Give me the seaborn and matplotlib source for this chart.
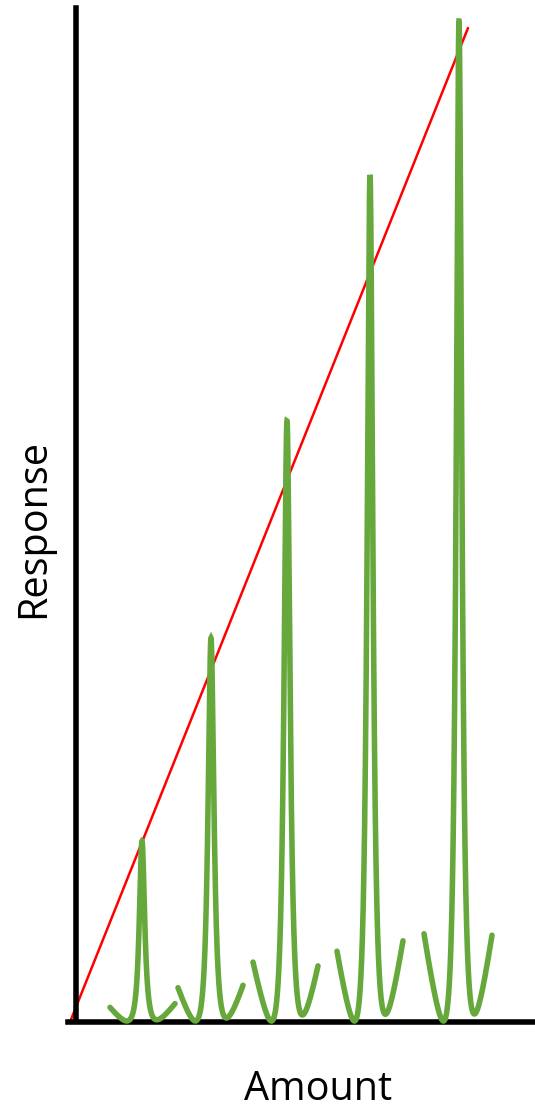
import numpy as np
import pandas as pd
import matplotlib
matplotlib.use("Agg")
import matplotlib.pyplot as plt
import seaborn as sns

# ---- data (pixel-like units: amount along x, response upward) ----
peak_amount = [142, 211, 287, 370, 459]
peak_response = [180, 383, 600, 846, 1000]
arm_rise = [15.5, 34.5, 57, 75, 86.5]    # mean level of the two arm ends
arm_left = [-32, -33, -34, -33, -35]
arm_right = [33, 32, 31, 33, 33]
arm_tilt = [0.04, 0.06, 0.1, 0.1, 0.1]
arm_shift = [0.0, 0.2, 0.3, 0.3, 0.3]    # centre of the baseline "V" left of the spike
valley_dist = [15, 15.5, 15.5, 15.5, 15.5]

line_amount = [70, 468]
line_response = [0, 994]

GREEN = "#67A83C"
RED = "#FF0000"
E = 5.0


def curve(d, H, w, a, t, s):
    return H * w * w / (w * w + d * d) + a * np.sqrt((d + s) ** 2 + E * E) + t * d


def build(top, rise, t, s, dv, dl, dr):
    H, a, w2 = float(top), rise / 18.0, 9.0
    d = np.linspace(dl, dr, 2001)
    pts = np.array([0.0, float(dl), float(dr)])
    for _ in range(40):
        for _ in range(20):
            w2 = a * (w2 + dv * dv) ** 2 / (2 * H * np.sqrt(dv * dv + E * E))
        w = np.sqrt(w2)
        m = curve(d, H, w, a, t, s).min()
        v = curve(pts, H, w, a, t, s) - m
        H += top - v[0]
        a *= (rise / (0.5 * (v[1] + v[2]))) ** 0.7
    y = curve(d, H, w, a, t, s)
    return d, y - y.min() + 1.0


rows = []
for i, (c, top, rise, t, s, dv, dl, dr) in enumerate(zip(peak_amount, peak_response, arm_rise,
                                                         arm_tilt, arm_shift, valley_dist,
                                                         arm_left, arm_right)):
    d, y = build(top, rise, t, s, dv, dl, dr)
    for xx, yy in zip(c + d, y):
        rows.append({"amount": xx, "response": yy, "peak": i})
peaks = pd.DataFrame(rows)
calib = pd.DataFrame({"amount": line_amount, "response": line_response})

sns.set_style("white")
plt.rcParams["font.family"] = ["Open Sans", "DejaVu Sans"]

fig = plt.figure(figsize=(5.35, 11.09), dpi=100)
ax = fig.add_axes([0, 0, 1, 1])

sns.lineplot(data=calib, x="amount", y="response", color=RED, lw=1.8,
             estimator=None, sort=False, ax=ax, zorder=2)
sns.lineplot(data=peaks, x="amount", y="response", units="peak", color=GREEN, lw=4.0,
             estimator=None, sort=False, ax=ax, zorder=3,
             solid_joinstyle="miter", solid_capstyle="round")

ax.set_xlim(0, 535)
ax.set_ylim(-87, 1022)
ax.set_xticks([])
ax.set_yticks([])
ax.set_xlabel("")
ax.set_ylabel("")
ax.patch.set_alpha(0)

for sp in ["top", "right"]:
    ax.spines[sp].set_visible(False)
ax.spines["left"].set_position(("data", 76))
ax.spines["left"].set_bounds(2, 1014)
ax.spines["left"].set_linewidth(4)
ax.spines["left"].set_color("black")
ax.spines["bottom"].set_position(("data", 0))
ax.spines["bottom"].set_bounds(68, 535)
ax.spines["bottom"].set_linewidth(4)
ax.spines["bottom"].set_color("black")

ax.text(318, -78, "Amount", ha="center", va="baseline", fontsize=28.5, color="black")
ax.text(44, 493, "Response", ha="center", va="baseline", rotation=90,
        rotation_mode="anchor", fontsize=28.5, color="black")

fig.savefig("out.png", dpi=100)
